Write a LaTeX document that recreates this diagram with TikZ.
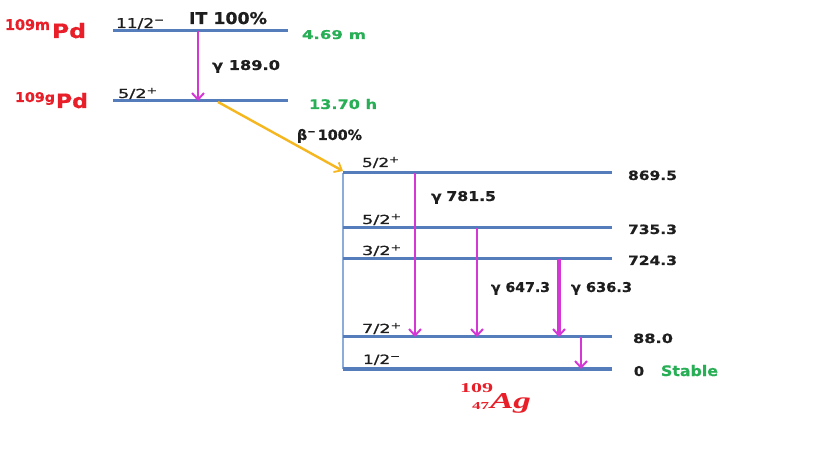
\documentclass[tikz,border=0pt]{standalone}
\usepackage{fontspec}
\usepackage{graphicx}
\setmainfont{DejaVu Sans}[BoldFeatures={FakeBold=0.6}]
\newfontfamily\spinfont[FakeBold=0.8]{DejaVu Sans}
\newfontfamily\agfont{Liberation Serif}
\usetikzlibrary{arrows.meta}
\definecolor{lvl}{RGB}{85,125,188}
\definecolor{lvllight}{RGB}{140,172,218}
\definecolor{mag}{RGB}{212,56,212}
\definecolor{yel}{RGB}{245,182,30}
\definecolor{redt}{RGB}{232,30,40}
\definecolor{greent}{RGB}{40,175,85}
\definecolor{txt}{RGB}{30,30,30}
\newcommand\fitbox[3]{\resizebox{#1bp}{#2bp}{#3}}
\tikzset{
  lab/.style={anchor=base west, inner sep=0pt, outer sep=0pt, text=txt},
  spinlab/.style={lab, font=\spinfont},
  boldlab/.style={lab, font=\bfseries},
  greenlab/.style={lab, font=\bfseries, text=greent},
  redlab/.style={lab, font=\bfseries, text=redt},
  level/.style={draw=lvl, line width=3bp},
  gam/.style={draw=mag, line width=2.8bp, -{Straight Barb[length=6.5bp,width=12bp,line width=2bp]}},
  beta/.style={draw=yel, line width=2.4bp, -{Straight Barb[length=6.5bp,width=11bp,line width=1.8bp]}},
}
\begin{document}
\begin{tikzpicture}[x=1bp,y=-1bp]
\useasboundingbox[fill=white] (0,0) rectangle (819,460);

% Pd levels
\coordinate (pmL) at (113,31);  \coordinate (pmR) at (288,31);
\coordinate (pgL) at (113,101); \coordinate (pgR) at (288,101);
\draw[level] (pmL) -- (pmR);
\draw[level] (pgL) -- (pgR);

% Ag levels
\coordinate (a5L) at (343,173); \coordinate (a5R) at (612,173);
\coordinate (a4L) at (343,228); \coordinate (a4R) at (612,228);
\coordinate (a3L) at (343,259); \coordinate (a3R) at (612,259);
\coordinate (a2L) at (343,337); \coordinate (a2R) at (612,337);
\coordinate (a1L) at (343,369); \coordinate (a1R) at (612,369);
\draw[draw=lvllight, line width=1.4bp] (a5L) -- (a1L);
\foreach \n in {a5,a4,a3,a2,a1} {\draw[level] (\n L) -- (\n R);}

% transitions
\coordinate (g1s) at (198,31);  \coordinate (g1e) at (198,101);
\coordinate (bs) at (218,102);  \coordinate (be) at (343,171);
\coordinate (g2s) at (415,173); \coordinate (g2e) at (415,337);
\coordinate (g3s) at (477,228); \coordinate (g3e) at (477,337);
\coordinate (g4s) at (559,259); \coordinate (g4e) at (559,337);
\coordinate (g5s) at (581,337); \coordinate (g5e) at (581,369);
\draw[gam] (g1s) -- (g1e);
\draw[beta] (bs) -- (be);
\draw[gam] (g2s) -- (g2e);
\draw[gam] (g3s) -- (g3e);
\draw[gam,line width=3.2bp] (g4s) -- (g4e);
\draw[gam,line width=2.2bp] (g5s) -- (g5e);

% Pd labels
\node[redlab] (pm1) at (5,30) {\fitbox{45}{11}{109m}};
\node[redlab] (pm2) at (52,38) {\fitbox{34}{15}{Pd}};
\node[redlab] (pg1) at (15,102) {\fitbox{40}{10}{109g}};
\node[redlab] (pg2) at (56,108) {\fitbox{32}{15}{Pd}};

\node[spinlab] (s1) at (116,28) {\fitbox{49}{10}{11/2\textsuperscript{−}}};
\node[boldlab] (it) at (189,24) {\fitbox{78}{12}{IT 100\%}};
\node[greenlab] (t1) at (302,39) {\fitbox{64}{9}{4.69 m}};
\node[boldlab] (e1) at (212,70) {\fitbox{68}{10}{γ\hspace{0.35em}189.0}};
\node[spinlab] (s2) at (118,98) {\fitbox{40}{10}{5/2\textsuperscript{+}}};
\node[greenlab] (t2) at (309,109) {\fitbox{68}{10}{13.70 h}};
\node[boldlab] (bl) at (297,140) {\fitbox{65}{11}{β\textsuperscript{−}\hspace{0.1em}100\%}};

% Ag labels
\node[spinlab] (s3) at (362,167) {\fitbox{38}{10}{5/2\textsuperscript{+}}};
\node[boldlab] (l5) at (628,180) {\fitbox{49}{9.5}{869.5}};
\node[boldlab] (e2) at (431,201) {\fitbox{65}{10}{γ\hspace{0.3em}781.5}};
\node[spinlab] (s4) at (362,224) {\fitbox{40}{10}{5/2\textsuperscript{+}}};
\node[boldlab] (l4) at (628,234) {\fitbox{49}{9.5}{735.3}};
\node[spinlab] (s5) at (362,255) {\fitbox{40}{10}{3/2\textsuperscript{+}}};
\node[boldlab] (l3) at (628,265) {\fitbox{49}{9.5}{724.3}};
\node[boldlab] (e3) at (491,292) {\fitbox{59}{10}{γ 647.3}};
\node[boldlab] (e4) at (571,292) {\fitbox{61}{10}{γ 636.3}};
\node[spinlab] (s6) at (362,333) {\fitbox{40}{10}{7/2\textsuperscript{+}}};
\node[boldlab] (l2) at (633,343) {\fitbox{40}{9.5}{88.0}};
\node[spinlab] (s7) at (363,364) {\fitbox{38}{9.5}{1/2\textsuperscript{−}}};
\node[boldlab] (l1) at (634,376) {\fitbox{10}{10}{0}};
\node[greenlab] (st) at (661,376) {\fitbox{57}{11}{Stable}};

\node[redlab, font=\agfont\bfseries] (ag1) at (460,392) {\fitbox{33}{9}{109}};
\node[redlab, font=\agfont\bfseries] (ag2) at (472,409) {\fitbox{17}{7}{47}};
\node[redlab, font=\agfont\bfseries\itshape] (ag3) at (490,408) {\fitbox{41}{15}{Ag}};
\end{tikzpicture}
\end{document}
